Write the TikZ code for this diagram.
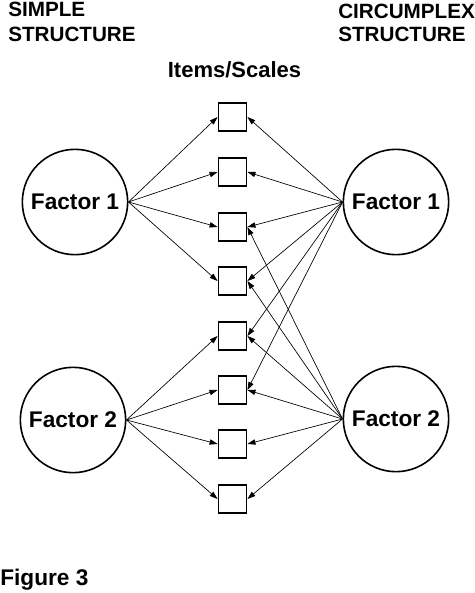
\documentclass[tikz,border=0pt]{standalone}
\usepackage{fontspec}
\setmainfont{Liberation Sans}
\usetikzlibrary{arrows.meta}
\begin{document}
\begin{tikzpicture}[x=0.75pt,y=-0.75pt,
  every node/.style={font=\bfseries\fontsize{15.5}{18}\selectfont},
  label/.style={anchor=base west,inner sep=0pt},
  factor/.style={draw,circle,line width=1.2pt,minimum size=79pt,inner sep=0pt,
    font=\bfseries\fontsize{17}{20}\selectfont},
  item/.style={draw,line width=1.4pt,minimum size=21pt,inner sep=0pt},
  arr/.style={line width=0.5pt,-{Triangle[length=6pt,width=4pt]}}]
\useasboundingbox (0,0) rectangle (475,593);

\node[label] (t1) at (8,16.5) {SIMPLE};
\node[label] (t2) at (8,41) {STRUCTURE};
\node[label] (t3) at (338,18) {CIRCUMPLEX};
\node[label] (t4) at (338,41) {STRUCTURE};
\node[anchor=base,inner sep=0pt,font=\bfseries\fontsize{16.5}{20}\selectfont]
  (items) at (234.5,77) {Items/Scales};

\node[factor] (sf1) at (75,202) {Factor 1};
\node[factor] (sf2) at (73,420) {Factor 2};
\node[factor] (cf1) at (396,202) {Factor 1};
\node[factor] (cf2) at (396,419) {Factor 2};

\node[item] (b1) at (232.5,117) {};
\node[item] (b2) at (232.5,172) {};
\node[item] (b3) at (232.5,227) {};
\node[item] (b4) at (232.5,281) {};
\node[item] (b5) at (232.5,336) {};
\node[item] (b6) at (232.5,390) {};
\node[item] (b7) at (232.5,444) {};
\node[item] (b8) at (232.5,499) {};

\draw[arr] (sf1.east) -- (b1.west);
\draw[arr] (sf1.east) -- (b2.west);
\draw[arr] (sf1.east) -- (b3.west);
\draw[arr] (sf1.east) -- (b4.west);

\draw[arr] (sf2.east) -- (b5.west);
\draw[arr] (sf2.east) -- (b6.west);
\draw[arr] (sf2.east) -- (b7.west);
\draw[arr] (sf2.east) -- (b8.west);

\draw[arr] (cf1.west) -- (b1.east);
\draw[arr] (cf1.west) -- (b2.east);
\draw[arr] (cf1.west) -- (b3.east);
\draw[arr] (cf1.west) -- (b4.east);
\draw[arr] (cf1.west) -- (b5.east);
\draw[arr] (cf1.west) -- (b6.east);

\draw[arr] (cf2.west) -- (b3.east);
\draw[arr] (cf2.west) -- (b4.east);
\draw[arr] (cf2.west) -- (b5.east);
\draw[arr] (cf2.west) -- (b6.east);
\draw[arr] (cf2.west) -- (b7.east);
\draw[arr] (cf2.west) -- (b8.east);

\node[label,font=\bfseries\fontsize{17}{20}\selectfont] (fig) at (0,585) {Figure 3};
\end{tikzpicture}
\end{document}
